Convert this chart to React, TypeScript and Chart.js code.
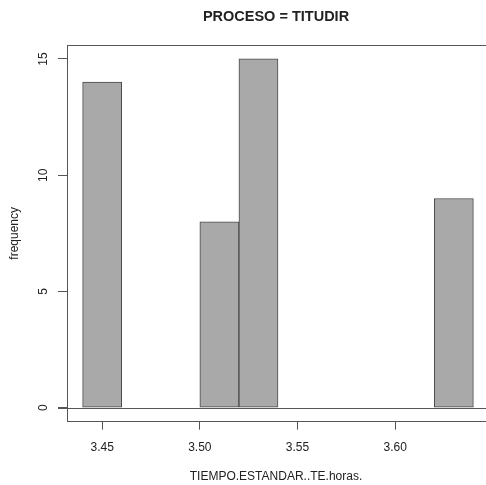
import React, { useEffect, useRef } from "react";
import { Chart, registerables } from "chart.js";

Chart.register(...registerables);

// Histogram bins (left/right break points) and their counts
const binLeft = [3.44, 3.5, 3.52, 3.62];
const binRight = [3.46, 3.52, 3.54, 3.64];
const counts = [14, 8, 15, 9];

// Axis ticks
const xTicks = [3.45, 3.5, 3.55, 3.6];
const yTicks = [0, 5, 10, 15];

const mainTitle = "PROCESO = TITUDIR";
const xTitle = "TIEMPO.ESTANDAR..TE.horas.";
const yTitle = "frequency";

const FONT = "'Liberation Sans', Arial, Helvetica, sans-serif";
const TEXT = "#222";
const LINE = "#555";

const textPlugin = {
  id: "rText",
  afterDraw(chart: any) {
    const { ctx, chartArea } = chart;
    const y = chart.scales.y;
    ctx.save();
    // plot box (top edge)
    ctx.strokeStyle = LINE;
    ctx.lineWidth = 1;
    ctx.beginPath();
    ctx.moveTo(chartArea.left, chartArea.top + 0.5);
    ctx.lineTo(chartArea.right, chartArea.top + 0.5);
    ctx.stroke();
    // baseline at zero
    const y0 = Math.round(y.getPixelForValue(0)) + 0.5;
    ctx.beginPath();
    ctx.moveTo(chartArea.left - 9, y0);
    ctx.lineTo(chartArea.right, y0);
    ctx.stroke();

    ctx.fillStyle = TEXT;
    // main title
    const cx = (chartArea.left + chartArea.right) / 2;
    ctx.font = `bold 14.5px ${FONT}`;
    ctx.textAlign = "center";
    ctx.textBaseline = "middle";
    ctx.fillText(mainTitle, cx - 2, 17);
    // x title
    ctx.font = `12px ${FONT}`;
    ctx.fillText(xTitle, cx - 2, 477);
    // y tick labels, rotated
    for (const v of yTicks) {
      const py = y.getPixelForValue(v);
      ctx.save();
      ctx.translate(44, py);
      ctx.rotate(-Math.PI / 2);
      ctx.fillText(String(v), 0, 0);
      ctx.restore();
    }
    // y title
    const cy = (chartArea.top + chartArea.bottom) / 2;
    ctx.save();
    ctx.translate(15, cy);
    ctx.rotate(-Math.PI / 2);
    ctx.fillText(yTitle, 0, 0);
    ctx.restore();
    ctx.restore();
  },
};

export default function App() {
  const ref = useRef<HTMLCanvasElement>(null);

  useEffect(() => {
    if (!ref.current) return;
    const chart = new Chart(ref.current, {
      type: "bar",
      data: {
        datasets: [
          {
            data: counts.map((c, i) => ({ x: (binLeft[i] + binRight[i]) / 2, y: c })),
            backgroundColor: "#a9a9a9",
            borderColor: "#4a4a4a",
            borderWidth: 1,
            borderSkipped: false,
            categoryPercentage: 1,
            barPercentage: 1,
            grouped: false,
          } as any,
        ],
      },
      options: {
        responsive: false,
        animation: false,
        layout: { padding: { top: 45, right: 11, left: 0, bottom: 0 } },
        plugins: {
          legend: { display: false },
          tooltip: { enabled: false },
          title: { display: false },
        },
        scales: {
          x: {
            type: "linear",
            offset: false,
            min: 3.432,
            max: 3.648,
            afterBuildTicks: (s: any) => {
              s.ticks = xTicks.map((v) => ({ value: v }));
            },
            afterFit: (s: any) => {
              s.height = 63.3;
            },
            ticks: {
              color: TEXT,
              font: { family: FONT, size: 12 },
              padding: 11,
              maxRotation: 0,
              autoSkip: false,
              callback: (v: any) => Number(v).toFixed(2),
            },
            grid: {
              offset: false,
              drawOnChartArea: false,
              drawTicks: true,
              tickLength: 8,
              color: LINE,
            },
            border: { display: true, color: LINE, width: 1 },
          },
          y: {
            type: "linear",
            min: -0.6,
            max: 15.6,
            afterBuildTicks: (s: any) => {
              s.ticks = yTicks.map((v) => ({ value: v }));
            },
            afterFit: (s: any) => {
              s.width = 67;
            },
            ticks: { display: false },
            grid: {
              drawOnChartArea: false,
              drawTicks: true,
              tickLength: 9,
              color: LINE,
            },
            border: { display: true, color: LINE, width: 1 },
          },
        },
      },
      plugins: [textPlugin],
    });
    return () => chart.destroy();
  }, []);

  return (
    <div
      style={{
        position: "absolute",
        left: 0,
        top: 0,
        width: 486,
        height: 485,
        overflow: "hidden",
        background: "#fff",
      }}
    >
      <canvas ref={ref} width={500} height={485} style={{ display: "block" }} />
    </div>
  );
}
